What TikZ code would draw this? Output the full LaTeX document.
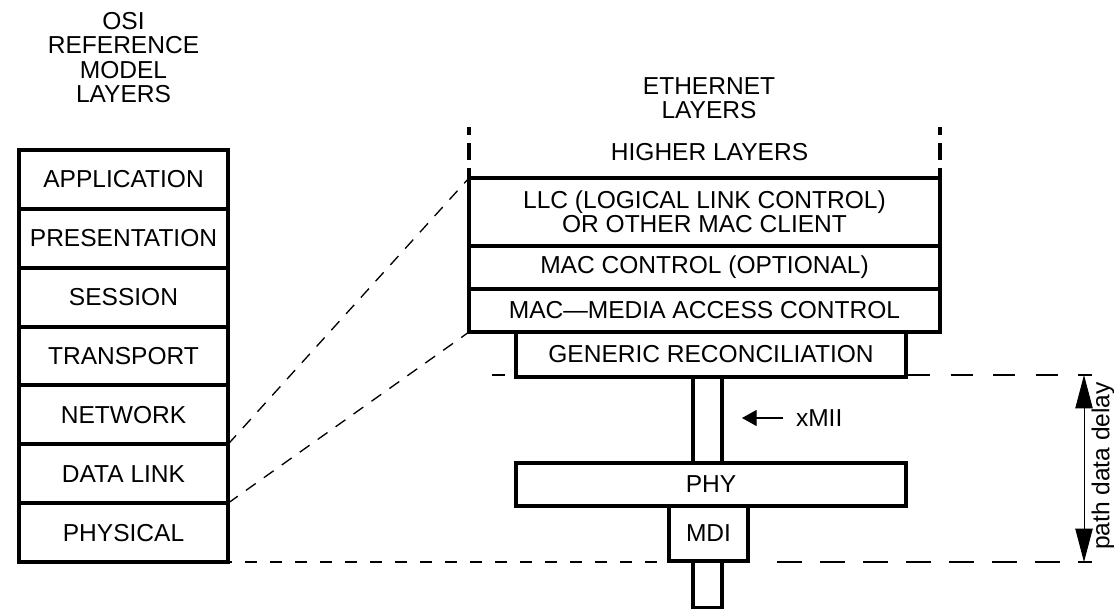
\documentclass[tikz,border=0pt]{standalone}
\usepackage{fontspec}
\setmainfont{Liberation Sans}
\usetikzlibrary{arrows.meta}
\begin{document}
\begin{tikzpicture}[x=0.75pt, y=-0.75pt,
  every node/.style={font=\fontsize{18.4}{18.2}\selectfont, inner sep=0pt, outer sep=0pt},
  layer/.style n args={2}{draw, line width=3pt, fill=white, align=center,
    minimum width=#1*0.75pt, minimum height=#2*0.75pt},
  thin dash/.style={line width=1pt, dash pattern=on 9pt off 9.75pt, dash phase=6pt},
  long dash/.style={line width=1pt, dash pattern=on 18.75pt off 13.5pt},
  upper dash/.style={line width=1pt, dash pattern=on 16.5pt off 15.375pt, dash phase=6.75pt},
  diag dash/.style={line width=1pt, dash pattern=on 9pt off 7.5pt},
  tick/.style={line width=3pt, dash pattern=on 6pt off 6pt on 12.75pt off 6pt},
  delay/.style={line width=0.75pt, {Triangle[length=25pt,width=13pt]}-{Triangle[length=25pt,width=13pt]}},
  pointer/.style={line width=1pt, -{Triangle[length=11pt,width=12pt]}}
]
\useasboundingbox (0,0) rectangle (1114,608);

% OSI reference model stack
\node[align=center] (osititle) at (123.5,57.5) {OSI\\REFERENCE\\MODEL\\LAYERS};
\foreach \name/\txt [count=\i from 0] in {app/APPLICATION, pres/PRESENTATION,
    sess/SESSION, trans/TRANSPORT, net/NETWORK, dl/DATA LINK, phys/PHYSICAL}
  \node[layer={209}{58.86}] (\name) at (123.5,{179.43+58.86*\i}) {\txt};

% Ethernet layers
\node[align=center] (ethtitle) at (709,98) {ETHERNET\\LAYERS};
\node (higher) at (709.5,152) {HIGHER LAYERS};

% reference lines for the path data delay
\coordinate (upstart) at (492,375);
\coordinate (upend)   at (1092,375);
\coordinate (lowstart) at (777,562);
\coordinate (lowend)  at (1092,562);
\draw[upper dash] (upstart) -- (upend);
\draw[long dash] (lowstart) -- (lowend);

\node[layer={471}{68}] (llc) at (704.5,212) {LLC (LOGICAL LINK CONTROL)\\OR OTHER MAC CLIENT};
\node[layer={471}{43}] (macctl) at (704.5,267.5) {MAC CONTROL (OPTIONAL)};
\node[layer={471}{43}] (mac) at (704.5,310.5) {MAC—MEDIA ACCESS CONTROL};

% medium-independent interface and medium stub
\node[layer={29}{86}] (xmii) at (707.5,420) {};
\node[layer={29}{47}] (stub) at (707.5,584.5) {};

\node[layer={390}{45}] (gr) at (711,354.5) {GENERIC RECONCILIATION};
\node[layer={390}{43}] (phy) at (711,484.5) {PHY};
\node[layer={79}{55}] (mdi) at (708.5,533.5) {MDI};

% open sides above the LLC box
\coordinate (tickl) at (469,127);
\coordinate (tickr) at (940,127);
\draw[tick] (tickl) -- (llc.north west);
\draw[tick] (tickr) -- (llc.north east);

% correspondence between the two stacks
\draw[diag dash] (net.south east) -- (llc.north west);
\draw[diag dash] (dl.south east) -- (mac.south west);
\draw[thin dash] (phys.south east) -- (phys.south east -| mdi.west);

% xMII pointer
\coordinate (xmiitail) at (783,418);
\coordinate (xmiitip) at (742,418);
\draw[pointer] (xmiitail) -- (xmiitip);
\node[anchor=west] (xmiilbl) at (796,418) {xMII};

% path data delay
\coordinate (dtop) at (1084,375);
\coordinate (dbot) at (1084,562);
\draw[delay] (dtop) -- (dbot);
\node[rotate=90] (delaylbl) at (1103,466) {path data delay};
\end{tikzpicture}
\end{document}
